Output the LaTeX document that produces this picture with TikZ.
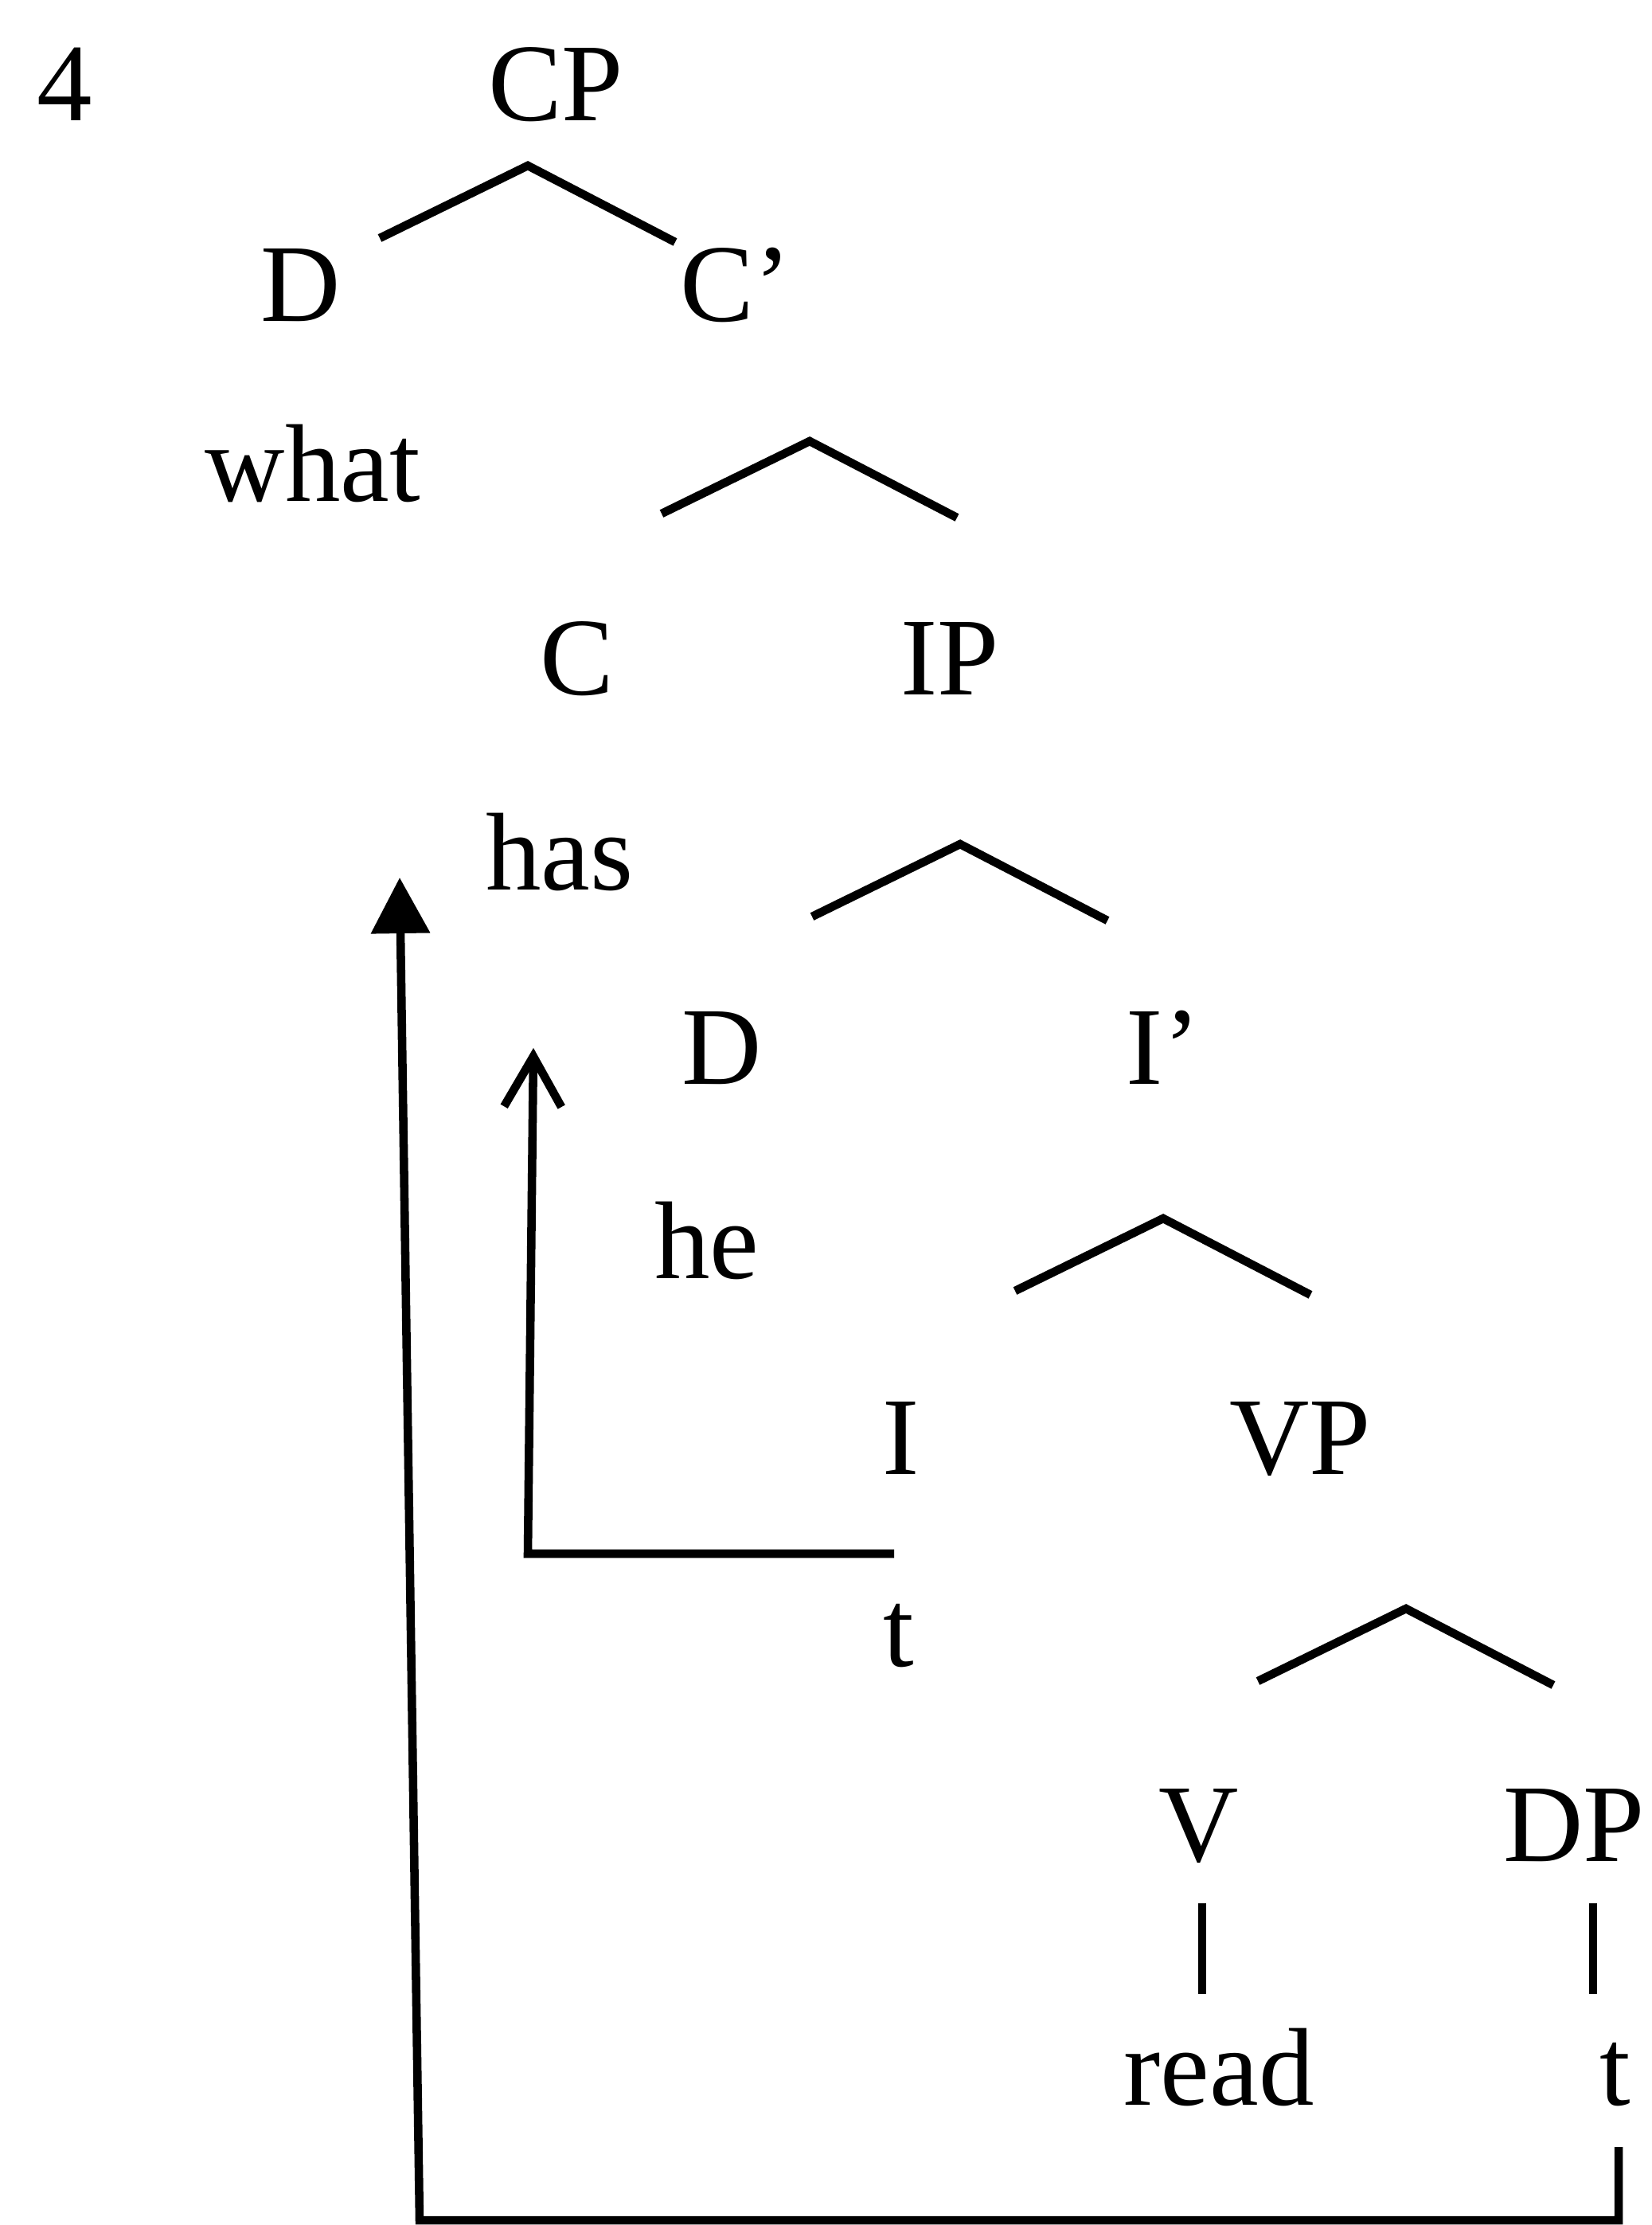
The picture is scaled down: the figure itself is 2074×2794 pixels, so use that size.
\documentclass[tikz,border=0pt]{standalone}
\usepackage{fontspec}
\setmainfont{Liberation Serif}
\usetikzlibrary{arrows.meta}

\begin{document}
\begin{tikzpicture}[x=0.01cm,y=-0.01cm,line width=3pt,
  headmove/.style={-{Straight Barb[length=0.63cm,width=0.72cm]}},
  whmove/.style={-{Triangle[length=0.70cm,width=0.72cm]}}]
\tikzstyle{every node}+=[inner sep=0pt,anchor=base,font=\fontsize{39.5}{47}\selectfont]
\useasboundingbox (0,0) rectangle (2074,2794);
\node (num) at (81,152) {4};
\node (cp) at (698,152) {CP};
\node (d1) at (378,403) {D};
\node (cbar) at (924,403) {C’};
\node (what) at (393,629) {what};
\node (c) at (725,872) {C};
\node (ip) at (1193,872) {IP};
\node (has) at (703,1117) {has};
\node (d2) at (907,1361) {D};
\node (ibar) at (1461,1361) {I’};
\node (he) at (888,1605) {he};
\node (i) at (1132,1851) {I};
\node (vp) at (1633,1851) {VP};
\node (t1) at (1129,2092) {t};
\node (v) at (1506,2337) {V};
\node (dp) at (1977,2337) {DP};
\node (read) at (1531,2643) {read};
\node (t2) at (2029,2643) {t};
\coordinate (b1) at (663,208);
\coordinate (b2) at (1017,554);
\coordinate (b3) at (1206,1060);
\coordinate (b4) at (1461,1530);
\coordinate (b5) at (1766,2020);
\draw [black] (b1) ++(-186,91) -- (b1) -- ++(185,96);
\draw [black] (b2) ++(-186,91) -- (b2) -- ++(185,96);
\draw [black] (b3) ++(-186,91) -- (b3) -- ++(185,96);
\draw [black] (b4) ++(-186,91) -- (b4) -- ++(185,96);
\draw [black] (b5) ++(-186,91) -- (b5) -- ++(185,96);
\draw [black] (v.base) ++(4,53) -- ++(0,114);
\draw [black] (dp.base) ++(24,53) -- ++(0,114);
\coordinate (hdcorner) at (663,1951);
\coordinate (hdtip) at (670,1316);
\draw [black,headmove] (t1.base) ++(-6,-141) -- (hdcorner) -- (hdtip);
\coordinate (whcorner) at (527,2788);
\coordinate (whtip) at (502,1102);
\draw [black,whmove] (t2.base) ++(4,53) |- (whcorner) -- (whtip);
\end{tikzpicture}
\end{document}
